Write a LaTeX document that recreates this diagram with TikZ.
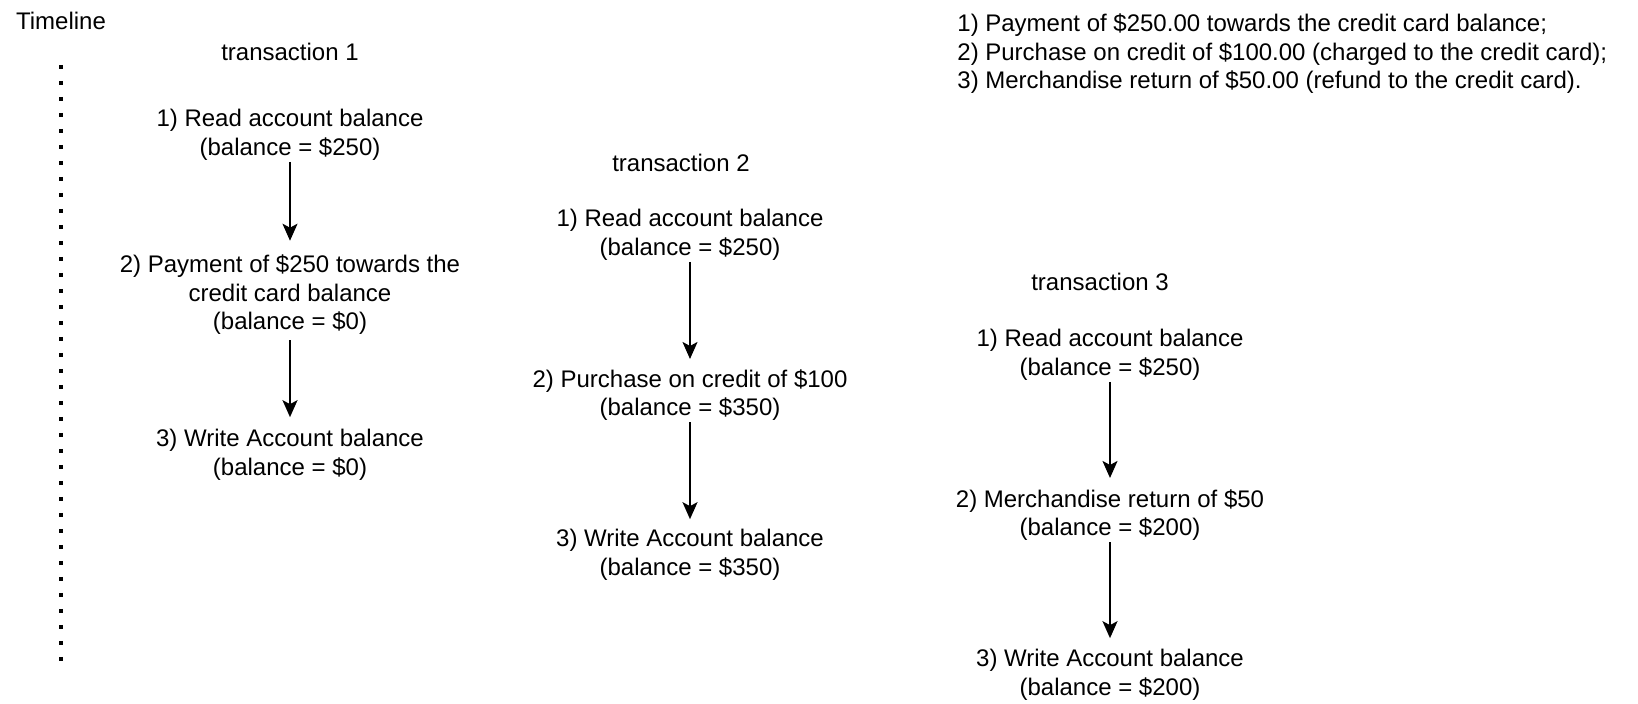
\documentclass[tikz,border=0pt]{standalone}
\usepackage{fontspec}
\setmainfont{Liberation Sans}
\usetikzlibrary{arrows.meta}
\tikzset{
  lbl/.style={align=center, inner sep=0pt, font=\fontsize{12}{14.25}\selectfont},
  lbll/.style={align=left, inner sep=0pt, font=\fontsize{12}{14.25}\selectfont},
  flow/.style={-{Stealth[length=8.5pt,width=7.5pt,inset=2pt]}, line width=1pt, shorten <=0.5pt, shorten >=7pt},
  timeline/.style={line width=2pt, dash pattern=on 2pt off 6pt}
}
\begin{document}
\begin{tikzpicture}[x=0.5pt,y=-0.5pt]
\useasboundingbox (0,0) rectangle (1638,704);
\node[lbl] (tl) at (61,21) {Timeline};
\coordinate (ts) at (61,65);
\coordinate (te) at (61,661);
\draw[timeline] (ts) -- (te);

\node[lbll, anchor=west] (note) at (957,54) {1) Payment of \$250.00 towards the credit card balance;\\2) Purchase on credit of \$100.00 (charged to the credit card);\\3) Merchandise return of \$50.00 (refund to the credit card).};

\node[lbl] (t1) at (290,52) {transaction 1};
\node[lbl] (a1) at (290,135) {1) Read account balance\\(balance = \$250)};
\node[lbl] (a2) at (290,295) {2) Payment of \$250 towards the\\credit card balance\\(balance = \$0)};
\node[lbl] (a3) at (290,455) {3) Write Account balance\\(balance = \$0)};
\draw[flow] (a1) -- (a2);
\draw[flow, shorten <=2.5pt, shorten >=6pt] (a2) -- (a3);

\node[lbl] (t2) at (681,163) {transaction 2};
\node[lbl] (b1) at (690,235) {1) Read account balance\\(balance = \$250)};
\node[lbl] (b2) at (690,395) {2) Purchase on credit of \$100\\(balance = \$350)};
\node[lbl] (b3) at (690,555) {3) Write Account balance\\(balance = \$350)};
\draw[flow, shorten >=5pt] (b1) -- (b2);
\draw[flow, shorten >=5pt] (b2) -- (b3);

\node[lbl] (t3) at (1100,282) {transaction 3};
\node[lbl] (c1) at (1110,355) {1) Read account balance\\(balance = \$250)};
\node[lbl] (c2) at (1110,515) {2) Merchandise return of \$50\\(balance = \$200)};
\node[lbl] (c3) at (1110,675) {3) Write Account balance\\(balance = \$200)};
\draw[flow, shorten >=5.5pt] (c1) -- (c2);
\draw[flow, shorten >=5.5pt] (c2) -- (c3);
\end{tikzpicture}
\end{document}
